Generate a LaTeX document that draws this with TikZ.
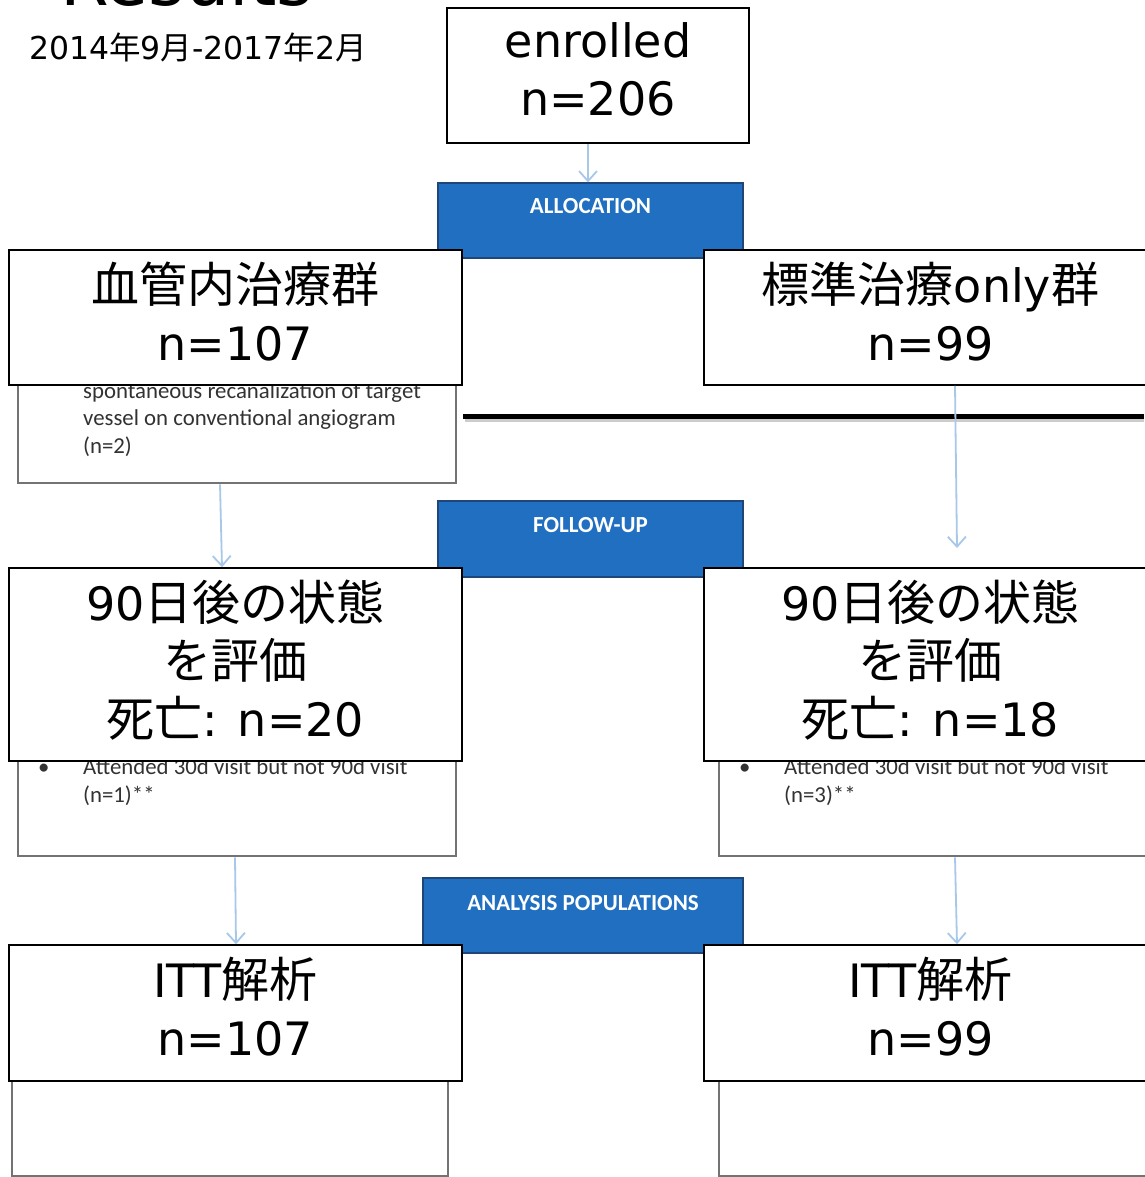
\documentclass[tikz,border=0pt]{standalone}
\usepackage{fontspec}
\setmainfont{DejaVu Sans}
\newfontfamily\cjk{Noto Sans CJK JP}
\newfontfamily\calfont{Carlito}
\usetikzlibrary{arrows.meta}
\definecolor{bluefill}{RGB}{32,111,192}
\definecolor{blueborder}{RGB}{30,70,120}
\definecolor{arrowblue}{RGB}{168,200,234}
\definecolor{greyline}{RGB}{115,115,115}
\definecolor{greytext}{RGB}{50,50,50}
\newcommand\jp[1]{{\cjk\fontsize{48}{58}\selectfont #1}}
\newcommand\jps[1]{{\cjk #1}}
\begin{document}
\begin{tikzpicture}[x=1pt,y=-1pt,
  bigbox/.style={draw=black, line width=1.6pt, fill=white, inner sep=0pt, align=center,
    font=\fontsize{46}{58}\selectfont, minimum width=453pt, minimum height=135pt, text depth=13pt},
  greybox/.style={draw=greyline, line width=2.6pt, fill=white, inner sep=0pt, minimum width=438pt},
  bluebox/.style={draw=blueborder, line width=1.2pt, fill=bluefill, inner sep=0pt, minimum width=305pt, minimum height=75pt},
  bluetext/.style={text=white, font=\calfont\bfseries\fontsize{23}{26}\selectfont, inner sep=0pt},
  greytxt/.style={text=greytext, font=\calfont\fontsize{22.8}{27.5}\selectfont, align=left, inner sep=0pt, anchor=base west},
  arr/.style={draw=arrowblue, line width=1.8pt, -{Straight Barb[length=10pt,width=18pt]}}
]
\useasboundingbox (0,0) rectangle (1144,1177);
\fill[white] (0,0) rectangle (1144,1177);

% title and dates
\node[anchor=base west, inner sep=0pt, font=\fontsize{70}{80}\selectfont] (title) at (60,6) {Results};
\node[anchor=base west, inner sep=0pt, font=\fontsize{31.5}{38}\selectfont] (dates) at (29,60)
  {2014\jps{年}9\jps{月}-2017\jps{年}2\jps{月}};

% grey background boxes
\node[greybox, minimum height=183pt] (g1L) at (237,391.5) {};
\node[greytxt] (t1L) at (83,453) {spontaneous recanalization of target\\vessel on conventional angiogram\\(n=2)};
\node[greybox, minimum height=156pt] (g2L) at (237,778) {};
\node[greytxt] (t2L) at (38,802) {\makebox[45pt][l]{\textbullet}Attended 30d visit but not 90d visit\\\hspace*{45pt}(n=1)**};
\node[greybox, minimum height=156pt] (g2R) at (938,778) {};
\node[greytxt] (t2R) at (739,802) {\makebox[45pt][l]{\textbullet}Attended 30d visit but not 90d visit\\\hspace*{45pt}(n=3)**};
\node[greybox, minimum width=436pt, minimum height=116pt] (g3L) at (230,1118) {};
\node[greybox, minimum height=116pt] (g3R) at (938,1118) {};

% blue section headers
\node[bluebox] (alloc) at (590.5,220.5) {};
\node[bluetext] (allocT) at ([yshift=-24pt]alloc.north) {ALLOCATION};
\node[bluebox, minimum height=76pt] (fu) at (590.5,539) {};
\node[bluetext] (fuT) at ([yshift=-25pt]fu.north) {FOLLOW-UP};
\node[bluebox, minimum width=320pt] (ana) at (583,915.5) {};
\node[bluetext] (anaT) at ([yshift=-26pt]ana.north) {ANALYSIS POPULATIONS};

% thick black line with shadow
\draw[line width=5pt, black!20] (465,419.5) -- (1144,419.5);
\draw[line width=5pt, black] (463,416) -- (1144,416);

% main boxes
\node[bigbox, minimum width=302pt] (enr) at (598,75.5) {enrolled\\n=206};
\node[bigbox] (grpL) at (235.5,317.5) {\jp{血管内治療群}\\n=107};
\node[bigbox] (grpR) at (930.5,317.5) {\jp{標準治療}only\jp{群}\\n=99};
\node[bigbox, minimum height=193pt] (fuL) at (235.5,664.5) {90\jp{日後の状態}\\\jp{を評価}\\\jp{死亡}: n=20};
\node[bigbox, minimum height=193pt] (fuR) at (930.5,664.5) {90\jp{日後の状態}\\\jp{を評価}\\\jp{死亡}: n=18};
\node[bigbox, minimum height=136pt] (ittL) at (235.5,1013) {ITT\jp{解析}\\n=107};
\node[bigbox, minimum height=136pt] (ittR) at (930.5,1013) {ITT\jp{解析}\\n=99};

% connectors
\coordinate (rEnd) at (957,548);
\draw[arr] ([xshift=-10pt]enr.south) -- ([xshift=-2.5pt]alloc.north);
\draw[arr] ([xshift=-17pt]g1L.south) -- ([xshift=-13.5pt]fuL.north);
\draw[arr] ([xshift=24.5pt]grpR.south) -- (rEnd);
\draw[arr] ([xshift=-2pt]g2L.south) -- ([xshift=0.5pt]ittL.north);
\draw[arr] ([xshift=17pt]g2R.south) -- ([xshift=26.5pt]ittR.north);
\end{tikzpicture}
\end{document}
